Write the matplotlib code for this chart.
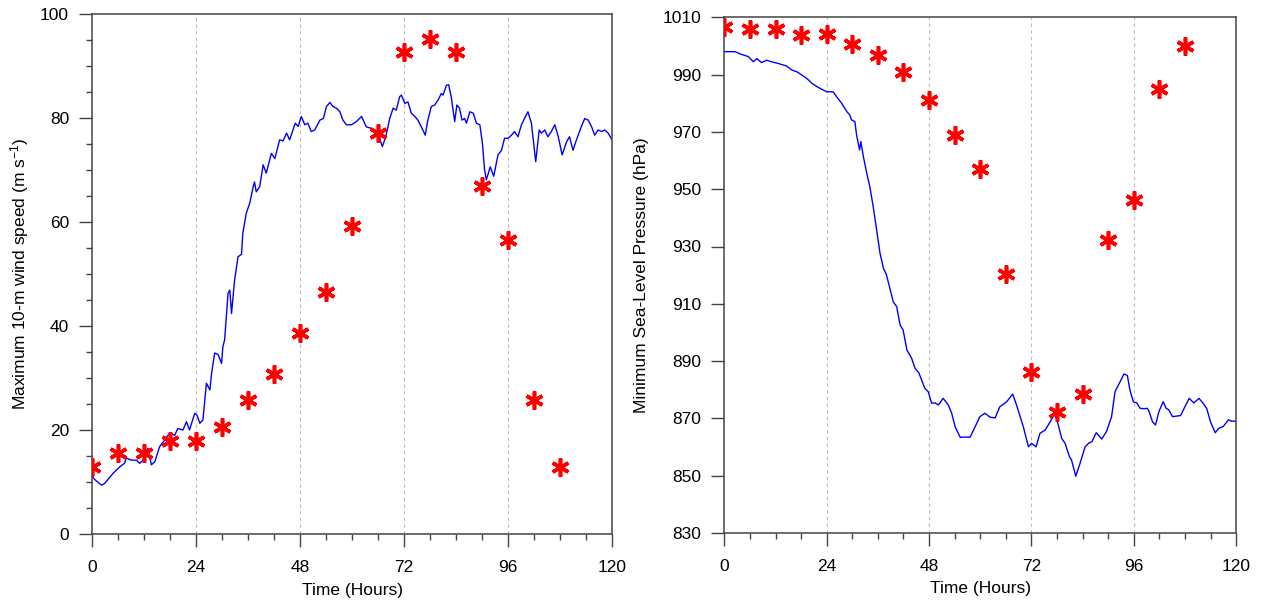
import numpy as np
import matplotlib
matplotlib.use('Agg')
import matplotlib.pyplot as plt
from matplotlib.ticker import MultipleLocator

plt.rcParams['font.family'] = ['Liberation Sans', 'DejaVu Sans']
plt.rcParams['mathtext.fontset'] = 'custom'
plt.rcParams['mathtext.rm'] = 'Liberation Sans'
plt.rcParams['mathtext.it'] = 'Liberation Sans:italic'

# best track, every 6 h
obs_hours = [0, 6, 12, 18, 24, 30, 36, 42, 48, 54, 60, 66, 72, 78, 84, 90, 96, 102, 108]
obs_wind = [12.8, 15.5, 15.5, 17.9, 17.9, 20.5, 25.7, 30.8, 38.6, 46.5, 59.2, 77.2,
            92.7, 95.2, 92.6, 66.9, 56.5, 25.7, 12.8]
obs_slp = [1006.7, 1005.8, 1005.8, 1003.8, 1004.0, 1000.8, 997.0, 990.9, 981.0, 969.0,
           957.0, 920.3, 886.3, 872.3, 878.4, 932.3, 946.2, 984.9, 1000.0]

# model maximum 10-m wind
wind_hours = [0.0, 1.0, 2.2, 2.9, 4.0, 4.9, 6.4, 7.5, 7.9, 9.1, 10.2, 11.0, 11.8, 12.9, 13.7,
              14.5, 15.6, 16.8, 17.9, 19.1, 19.8, 21.0, 21.8, 22.5, 23.7, 24.2, 24.9, 25.6,
              26.4, 27.2, 27.6, 28.3, 29.1, 29.9, 30.2, 30.6, 31.4, 31.8, 32.2, 32.9, 33.7,
              34.5, 34.8, 35.6, 36.4, 37.2, 37.5, 37.9, 38.7, 39.5, 40.2, 41.4, 42.2, 43.3,
              44.1, 44.9, 45.6, 46.9, 47.6, 48.3, 49.1, 49.8, 50.6, 51.4, 52.6, 53.4, 54.1,
              54.9, 55.6, 56.4, 57.2, 57.9, 58.7, 59.9, 61.0, 62.2, 63.3, 64.5, 66.0, 66.5,
              67.0, 67.8, 68.7, 69.5, 70.2, 71.0, 71.4, 72.2, 72.9, 73.7, 74.5, 75.2, 76.0,
              76.9, 77.5, 78.3, 79.1, 79.9, 80.6, 81.0, 81.8, 82.3, 82.9, 83.7, 84.2, 84.8,
              85.4, 86.0, 86.4, 87.2, 88.0, 88.7, 89.5, 90.1, 90.6, 91.0, 91.9, 92.7, 93.7,
              94.5, 95.2, 96.0, 96.8, 97.5, 98.3, 99.1, 99.8, 100.6, 101.4, 102.4, 103.2,
              103.7, 104.5, 105.2, 106.0, 106.8, 107.6, 108.5, 109.5, 110.2, 111.0, 111.8,
              112.9, 113.7, 114.5, 115.3, 116.0, 116.8, 117.6, 118.3, 119.1, 120.0]
wind_vals = [11.0, 10.2, 9.4, 9.7, 10.8, 11.7, 12.9, 13.6, 14.6, 14.2, 14.2, 13.6, 14.2, 16.5,
             13.3, 13.9, 16.8, 18.1, 19.4, 19.0, 20.3, 20.0, 21.6, 20.0, 23.2, 22.9, 21.3,
             21.9, 29.0, 27.7, 30.9, 34.8, 34.5, 32.8, 36.0, 37.3, 46.3, 46.9, 42.4, 48.8,
             53.3, 53.8, 57.8, 61.7, 63.6, 66.8, 67.7, 65.8, 66.8, 71.0, 69.4, 73.2, 72.2,
             75.8, 75.6, 77.1, 75.8, 79.0, 78.4, 80.3, 78.7, 79.0, 77.4, 77.7, 79.6, 79.9,
             82.2, 83.0, 82.2, 81.9, 81.2, 79.6, 78.7, 78.7, 79.3, 80.3, 78.3, 78.0, 77.4,
             75.8, 74.5, 76.4, 79.9, 81.9, 81.5, 84.1, 84.4, 82.8, 83.1, 80.9, 80.3, 79.6,
             78.3, 76.7, 79.6, 82.2, 82.5, 83.5, 84.7, 84.4, 86.3, 86.4, 84.1, 79.3, 82.5,
             81.9, 79.6, 79.9, 79.0, 81.2, 80.9, 79.0, 78.7, 75.1, 70.0, 68.1, 70.6, 68.8,
             72.9, 73.8, 76.1, 76.1, 76.7, 77.4, 76.4, 78.7, 79.9, 81.2, 79.0, 71.6, 77.7,
             77.1, 77.7, 76.4, 77.4, 78.7, 76.4, 72.9, 75.4, 76.4, 73.8, 75.8, 78.3, 79.9,
             79.6, 78.3, 76.7, 77.7, 77.4, 77.7, 77.1, 75.8]

# model minimum sea-level pressure
slp_hours = [0.0, 2.5, 3.7, 5.6, 6.8, 7.6, 8.7, 9.9, 11.0, 12.6, 14.6, 15.8, 17.0, 18.1,
             19.3, 20.5, 21.7, 22.8, 24.0, 25.5, 26.3, 27.5, 28.7, 29.4, 29.8, 30.6, 31.0,
             31.7, 32.0, 32.6, 33.4, 34.1, 34.9, 35.7, 36.5, 37.3, 38.0, 38.8, 39.6, 40.4,
             41.2, 41.9, 42.8, 43.9, 44.7, 45.6, 47.0, 47.8, 48.6, 49.4, 50.2, 51.3, 52.5,
             53.3, 54.1, 55.3, 56.5, 57.6, 58.8, 59.9, 61.1, 62.3, 63.5, 64.6, 66.2, 67.6,
             68.5, 70.1, 71.3, 72.0, 73.1, 74.0, 75.2, 76.4, 77.5, 78.3, 79.1, 79.9, 80.9,
             81.4, 82.4, 83.4, 84.6, 85.4, 86.2, 87.2, 88.5, 89.6, 90.8, 91.6, 92.8, 93.7,
             94.5, 95.1, 95.9, 96.7, 97.5, 98.4, 99.2, 99.6, 100.4, 101.1, 101.9, 102.9,
             103.6, 104.2, 105.1, 106.0, 107.0, 108.0, 109.0, 110.1, 111.3, 112.3, 113.1,
             114.0, 115.1, 115.9, 117.0, 118.2, 119.0, 120.0]
slp_vals = [998.0, 998.0, 997.2, 996.3, 994.5, 995.6, 994.2, 995.0, 994.5, 993.9, 993.0,
            991.6, 991.0, 989.9, 988.7, 987.0, 985.8, 984.9, 984.0, 984.0, 982.3, 980.0,
            977.1, 975.9, 974.2, 973.6, 968.9, 963.7, 966.6, 961.3, 955.5, 950.9, 943.9,
            935.8, 927.6, 922.4, 920.1, 915.4, 910.7, 909.0, 902.6, 900.9, 893.9, 891.0,
            887.5, 885.9, 880.5, 879.3, 875.3, 875.4, 874.7, 877.0, 874.7, 871.8, 867.1,
            863.4, 863.5, 863.4, 867.1, 870.6, 871.8, 870.4, 870.2, 874.1, 875.8, 878.5,
            874.7, 867.1, 860.1, 861.3, 860.1, 864.8, 865.9, 868.8, 871.8, 867.7, 863.0,
            861.3, 856.7, 855.5, 849.8, 854.3, 860.1, 861.3, 861.9, 865.0, 862.8, 865.4,
            870.6, 879.3, 882.8, 885.5, 885.0, 879.9, 875.8, 875.4, 873.5, 873.4, 873.5,
            872.4, 868.8, 867.7, 872.4, 875.8, 873.5, 873.0, 870.6, 870.8, 871.0, 874.1,
            877.0, 875.4, 877.0, 875.2, 873.5, 868.8, 865.0, 866.5, 867.2, 869.5, 869.0,
            869.1]

hour_ticks = [0, 24, 48, 72, 96, 120]

fig = plt.figure(figsize=(12.62, 6.08), dpi=100)
ax1 = fig.add_axes([92 / 1262, 74 / 608, 520 / 1262, 520 / 608])
ax2 = fig.add_axes([724.4 / 1262, 75 / 608, 511.7 / 1262, 515.7 / 608])

star = (6, 2, 0)

for ax in (ax1, ax2):
    ax.set_xlim(0, 120)
    ax.set_xticks(hour_ticks)
    ax.xaxis.set_minor_locator(MultipleLocator(6))
    for h in hour_ticks[1:-1]:
        ax.axvline(h, color='#bbbbbb', lw=0.8, ls=(0, (3, 3)), zorder=0)
    for s in ax.spines.values():
        s.set_color('#444444')
        s.set_linewidth(1.1)
    ax.tick_params(which='both', direction='out', top=False, right=False,
                   color='#444444', width=1.0, labelsize=12.5)
    ax.tick_params(which='major', length=9.5)
    ax.tick_params(which='minor', length=4.5)
    ax.tick_params(axis='x', which='major', pad=9)
    ax.tick_params(axis='y', which='major', pad=7)
    ax.set_xlabel('Time (Hours)', fontsize=12.5)

# left: maximum wind
ax1.plot(wind_hours, wind_vals, color='#0000ff', lw=1.0, zorder=2)
ax1.plot(obs_hours, obs_wind, ls='none', marker=star, ms=13, mew=2.6,
         color='#ff0000', zorder=3)
ax1.set_ylim(0, 100)
ax1.set_yticks([0, 20, 40, 60, 80, 100])
ax1.yaxis.set_minor_locator(MultipleLocator(5))
ax1.set_ylabel('Maximum 10-m wind speed (m s$^{-1}$)', fontsize=12.5)
ax1.yaxis.set_label_coords(-0.118, 0.5)
ax1.xaxis.set_label_coords(0.5, -0.095)

# right: minimum pressure
ax2.plot(slp_hours, slp_vals, color='#0000ff', lw=1.0, zorder=2)
ax2.plot(obs_hours, obs_slp, ls='none', marker=star, ms=13, mew=2.6,
         color='#ff0000', zorder=3)
ax2.set_ylim(830, 1010)
ax2.set_yticks(np.arange(830, 1011, 20))
ax2.set_ylabel('Minimum Sea-Level Pressure (hPa)', fontsize=12.5)
ax2.yaxis.set_label_coords(-0.148, 0.5)
ax2.xaxis.set_label_coords(0.5, -0.093)

fig.savefig('out.png', dpi=100)
